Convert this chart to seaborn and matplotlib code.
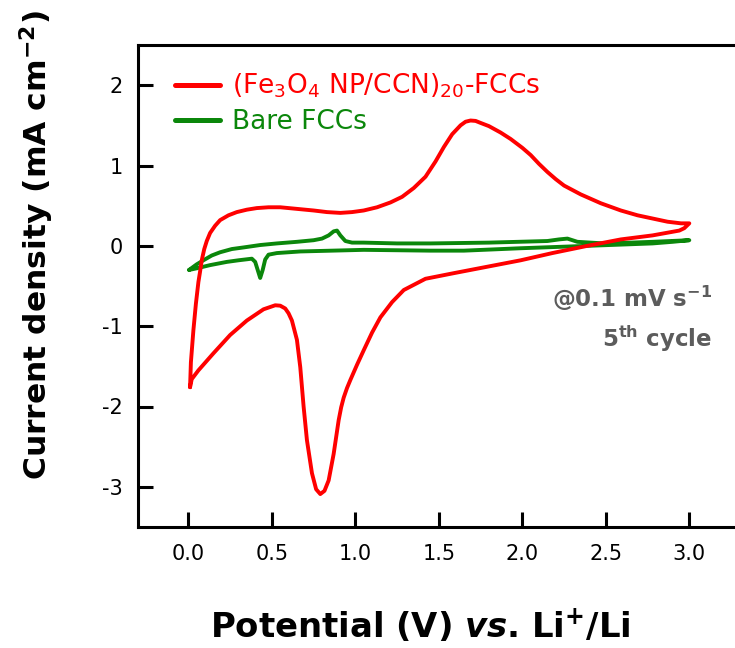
import matplotlib
matplotlib.use("Agg")
import matplotlib.pyplot as plt
import seaborn as sns
import pandas as pd
from matplotlib.lines import Line2D

# Fe3O4 NP/CCN composite electrode: anodic sweep (0 -> 3 V)
fe_anodic_v = [0.01, 0.015, 0.03, 0.045, 0.06, 0.07, 0.08, 0.095, 0.11, 0.13, 0.16, 0.19, 0.24,
               0.29, 0.35, 0.41, 0.48, 0.55, 0.65, 0.75, 0.83, 0.91, 0.98, 1.05, 1.13,
               1.21, 1.28, 1.35, 1.42, 1.48, 1.53, 1.58, 1.63, 1.66, 1.69, 1.72, 1.75,
               1.80, 1.87, 1.93, 2.00, 2.05, 2.10, 2.15, 2.20, 2.25, 2.35, 2.47, 2.59,
               2.69, 2.78, 2.87, 2.95, 3.0]
fe_anodic_j = [-1.76, -1.45, -1.05, -0.72, -0.45, -0.32, -0.18, -0.04, 0.06, 0.16, 0.25, 0.32, 0.38,
               0.42, 0.45, 0.47, 0.48, 0.48, 0.46, 0.44, 0.42, 0.41, 0.42, 0.44, 0.48,
               0.54, 0.61, 0.72, 0.86, 1.05, 1.23, 1.39, 1.50, 1.545, 1.56, 1.555, 1.53,
               1.49, 1.41, 1.33, 1.22, 1.13, 1.02, 0.92, 0.83, 0.75, 0.64, 0.53, 0.44,
               0.38, 0.34, 0.30, 0.28, 0.28]
# Fe3O4 NP/CCN composite electrode: cathodic sweep (3 -> 0 V)
fe_cathodic_v = [3.0, 2.97, 2.94, 2.78, 2.59, 2.39, 2.18, 1.99, 1.79, 1.59, 1.42, 1.29,
                 1.22, 1.15, 1.10, 1.05, 1.01, 0.97, 0.95, 0.93, 0.915, 0.90, 0.87, 0.84,
                 0.815, 0.79, 0.765, 0.74, 0.71, 0.69, 0.67, 0.65, 0.62, 0.60, 0.58, 0.55,
                 0.52, 0.45, 0.35, 0.25, 0.149, 0.06, 0.02, 0.01]
fe_cathodic_j = [0.28, 0.22, 0.19, 0.13, 0.08, 0.0, -0.09, -0.18, -0.26, -0.34, -0.41, -0.55,
                 -0.70, -0.89, -1.08, -1.30, -1.48, -1.67, -1.77, -1.89, -2.01, -2.17, -2.59, -2.92,
                 -3.05, -3.09, -3.03, -2.83, -2.42, -2.00, -1.51, -1.17, -0.93, -0.84, -0.78, -0.745,
                 -0.74, -0.79, -0.93, -1.11, -1.34, -1.55, -1.66, -1.76]

# Bare FCC electrode: anodic sweep
bare_anodic_v = [0.004, 0.05, 0.09, 0.14, 0.19, 0.26, 0.33, 0.43, 0.53, 0.65, 0.75, 0.80,
                 0.84, 0.87, 0.89, 0.91, 0.94, 0.98, 1.05, 1.25, 1.45, 1.8, 2.15, 2.22,
                 2.27, 2.33, 2.49, 2.65, 2.78, 3.0]
bare_anodic_j = [-0.30, -0.23, -0.18, -0.12, -0.08, -0.04, -0.02, 0.01, 0.03, 0.05, 0.07, 0.09,
                 0.13, 0.18, 0.19, 0.13, 0.06, 0.04, 0.04, 0.03, 0.03, 0.04, 0.06, 0.08,
                 0.09, 0.05, 0.03, 0.04, 0.05, 0.07]
# Bare FCC electrode: cathodic sweep
bare_cathodic_v = [3.0, 2.9, 2.78, 2.39, 1.99, 1.65, 1.45, 1.05, 0.67, 0.53, 0.48, 0.46,
                   0.445, 0.43, 0.415, 0.40, 0.38, 0.30, 0.23, 0.13, 0.05, 0.004]
bare_cathodic_j = [0.07, 0.05, 0.03, 0.0, -0.03, -0.06, -0.06, -0.05, -0.07, -0.09, -0.11, -0.17,
                   -0.30, -0.40, -0.30, -0.20, -0.16, -0.18, -0.20, -0.24, -0.28, -0.30]

x_ticks = [0.0, 0.5, 1.0, 1.5, 2.0, 2.5, 3.0]
y_ticks = [-3, -2, -1, 0, 1, 2]

labels = [r"(Fe$_3$O$_4$ NP/CCN)$_{20}$-FCCs", "Bare FCCs"]
colors = ["#ff0000", "#0b870b"]

sns.set_style("ticks")
plt.rcParams["font.family"] = ["DejaVu Sans"]
plt.rcParams["text.color"] = "black"
plt.rcParams["mathtext.fontset"] = "custom"
plt.rcParams["mathtext.rm"] = "DejaVu Sans"
plt.rcParams["mathtext.it"] = "DejaVu Sans:italic:bold"
plt.rcParams["mathtext.bf"] = "DejaVu Sans:bold"

fe_df = pd.DataFrame({"v": fe_anodic_v + fe_cathodic_v, "j": fe_anodic_j + fe_cathodic_j})
bare_df = pd.DataFrame({"v": bare_anodic_v + bare_cathodic_v, "j": bare_anodic_j + bare_cathodic_j})

fig = plt.figure(figsize=(7.35, 6.48), dpi=100)
ax = fig.add_axes([138.3 / 735, 1 - 527 / 648, (739.4 - 138.3) / 735, (527 - 45) / 648])

sns.lineplot(data=bare_df, x="v", y="j", sort=False, estimator=None, ax=ax,
             color=colors[1], linewidth=2.8)
sns.lineplot(data=fe_df, x="v", y="j", sort=False, estimator=None, ax=ax,
             color=colors[0], linewidth=2.8)

ax.set_xlim(-0.3, 3.3)
ax.set_ylim(-3.5, 2.5)
ax.set_xticks(x_ticks)
ax.set_xticklabels([f"{t:.1f}" for t in x_ticks])
ax.set_yticks(y_ticks)
ax.set_yticklabels([str(t) for t in y_ticks])
ax.set_xlabel("")
ax.set_ylabel("")

for side in ["left", "bottom", "top"]:
    ax.spines[side].set_linewidth(2.2)
    ax.spines[side].set_color("black")
ax.spines["right"].set_visible(False)
ax.tick_params(axis="both", direction="in", length=10.5, width=2.2, labelsize=15,
               colors="black")
ax.tick_params(axis="x", pad=12)
ax.tick_params(axis="y", pad=11)

handles = [Line2D([], [], color=c, linewidth=3.6) for c in colors]
leg = ax.legend(handles, labels, loc="upper left", bbox_to_anchor=(0.061, 0.944),
                frameon=False, fontsize=19, handlelength=1.7, handletextpad=0.45,
                borderpad=0, borderaxespad=0, labelspacing=0.33)
for txt, c in zip(leg.get_texts(), colors):
    txt.set_color(c)

fig.text(712 / 735, 1 - 307 / 648, r"@0.1 mV s$^{\mathbf{-1}}$", ha="right", va="baseline",
         fontsize=16.5, fontweight="bold", color="#5c5c5c")
fig.text(712 / 735, 1 - 347 / 648, r"5$^{\mathbf{th}}$ cycle", ha="right", va="baseline",
         fontsize=16.5, fontweight="bold", color="#5c5c5c")

fig.text(420 / 735, 1 - 638 / 648, r"Potential (V) $\mathit{vs}$. Li$^{\mathbf{+}}$/Li",
         ha="center", va="baseline", fontsize=24.4, fontweight="bold")
fig.text(37 / 735, 1 - 245 / 648, r"Current density (mA cm$^{\mathbf{-2}}$)", rotation=90,
         ha="center", va="center", fontsize=22.6, fontweight="bold")

fig.savefig("out.png", dpi=100, facecolor="white")
